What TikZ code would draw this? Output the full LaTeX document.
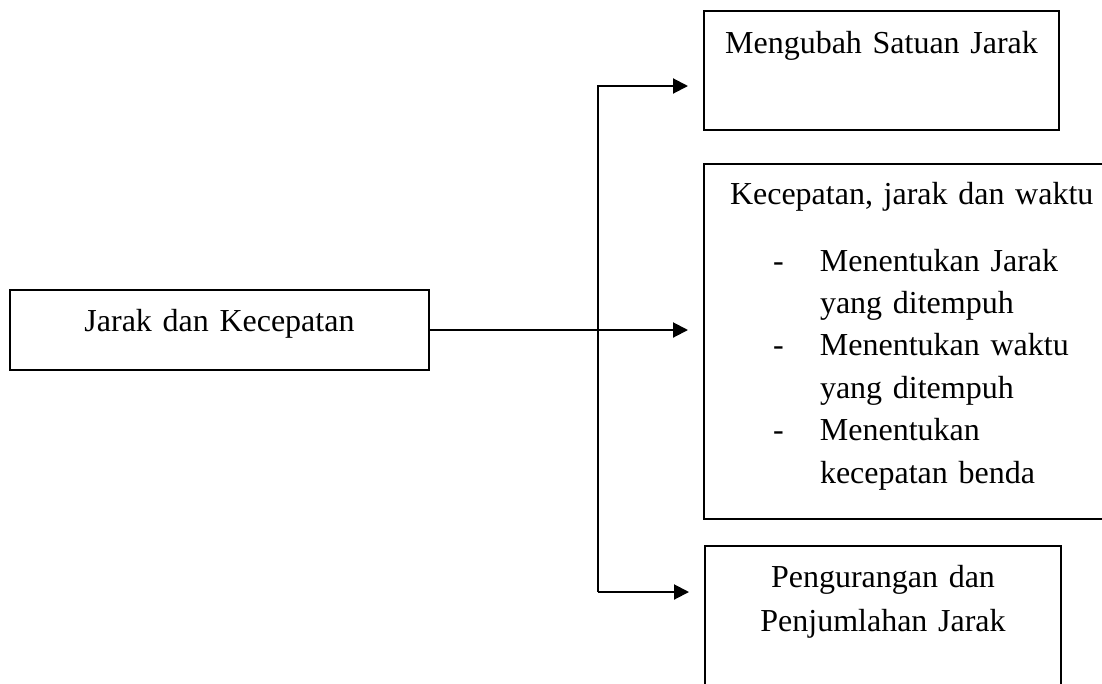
\documentclass[tikz,border=0pt]{standalone}
\usepackage{fontspec}
\setmainfont{Liberation Serif}
\usetikzlibrary{arrows.meta}

\newcommand{\butir}[1]{\hspace*{69pt}\makebox[47pt][l]{-}#1}

\begin{document}
\begin{tikzpicture}[x=1pt,y=-1pt,
    kotak/.style={draw,line width=2pt,inner sep=0pt,anchor=north west,align=left,
      font=\fontsize{32}{42.4}\selectfont},
    panah/.style={line width=2pt,-{Triangle[length=15pt,width=15pt]},shorten >=15pt}]
    \useasboundingbox (0,0) rectangle (1102,683);
    \clip (0,0) rectangle (1102,683);
    \node[kotak,align=center,text width=419pt,text height=41pt,text depth=39pt] (jarak) at (9,289) {Jarak dan Kecepatan};
    \node[kotak,align=center,text width=355pt,text height=42pt,text depth=77pt] (ubah) at (703,10) {Mengubah Satuan Jarak};
    \node[kotak,text width=407pt,text height=40pt,text depth=315pt] (kecep) at (703,163)
      {\hspace*{26pt}Kecepatan, jarak dan waktu\\[24.6pt]
       \butir{Menentukan Jarak}\\
       \hspace*{116pt}yang ditempuh\\
       \butir{Menentukan waktu}\\
       \hspace*{116pt}yang ditempuh\\
       \butir{Menentukan}\\
       \hspace*{116pt}kecepatan benda};
    \node[kotak,align=center,text width=356pt,text height=41pt,text depth=160pt] (kurang) at (704,545)
      {Pengurangan dan\\[1.6pt]Penjumlahan Jarak};
    \coordinate (atas) at (598,86);
    \coordinate (bawah) at (598,592);
    \draw[panah] (bawah) -- (atas) -- (atas -| ubah.west);
    \draw[panah] (bawah) -- (bawah -| kurang.west);
    \draw[panah] (jarak.east) -- (jarak.east -| kecep.west);
\end{tikzpicture}
\end{document}
